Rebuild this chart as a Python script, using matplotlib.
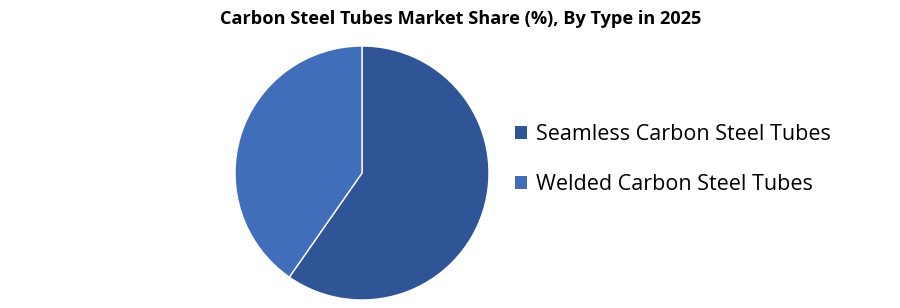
import matplotlib
matplotlib.use('Agg')
from matplotlib import pyplot as plt
from matplotlib.patches import Patch

# chart data
labels = ['Seamless Carbon Steel Tubes', 'Welded Carbon Steel Tubes']
shares = [59.7, 40.3]
colors = ['#2F5597', '#416EBB']
title = 'Carbon Steel Tubes Market Share (%), By Type in 2025'

W, H = 900, 308
fig = plt.figure(figsize=(W / 100, H / 100), dpi=100)

# pie centre ~ (362, 173) px, radius ~127 px
cx, cy, r = 362, 173, 127
ax = fig.add_axes([(cx - r) / W, (H - cy - r) / H, 2 * r / W, 2 * r / H])
ax.pie(shares, colors=colors, startangle=90, counterclock=False,
       wedgeprops=dict(edgecolor='white', linewidth=1))
ax.set_xlim(-1, 1)
ax.set_ylim(-1, 1)
ax.set_aspect('equal')
ax.axis('off')

fig.text(461 / W, 1 - 19 / H, title, ha='center', va='center',
         fontsize=13.1, fontweight='bold', family='Open Sans', color='black')

handles = [Patch(facecolor=c, edgecolor='none') for c in colors]
fig.legend(handles, labels, loc='center left', bbox_to_anchor=(515 / W, 1 - 159.5 / H),
           frameon=False, prop={'family': 'Open Sans', 'size': 15.5},
           borderpad=0, borderaxespad=0,
           handlelength=0.55, handleheight=0.55, handletextpad=0.42, labelspacing=1.37)

fig.savefig('out.png', dpi=100)
